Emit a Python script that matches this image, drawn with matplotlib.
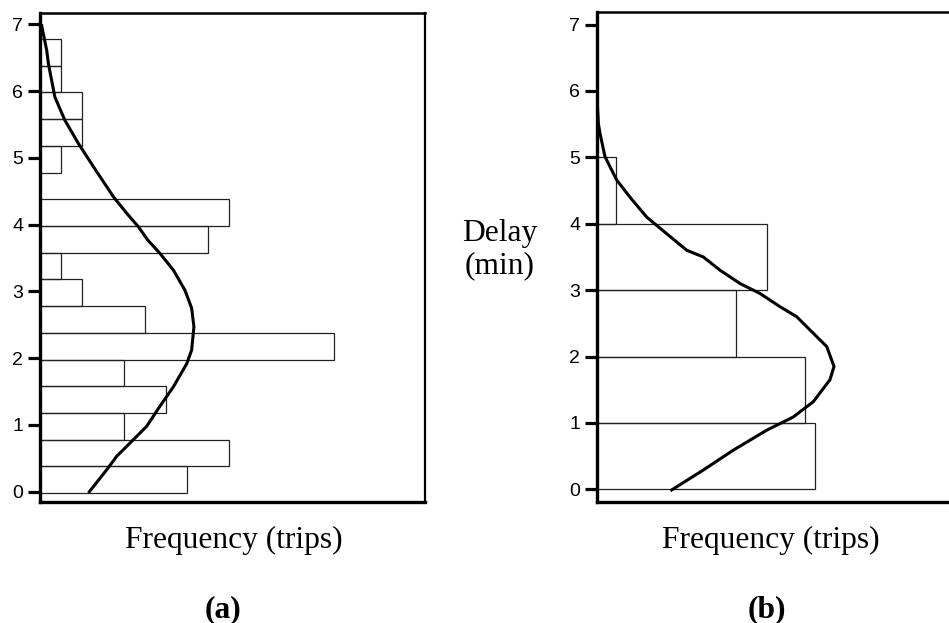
import matplotlib
matplotlib.use("Agg")
import matplotlib.pyplot as plt
import numpy as np

# (a) 0.4 min bins, counts of trips
bins_a = np.arange(17) * 0.4 - 0.02
counts_a = [7, 9, 4, 6, 4, 14, 5, 2, 1, 8, 9, 0, 1, 2, 2, 1, 1]
# fitted curve (a)
curve_a_x = [0.08, 0.32, 0.40, 0.71, 1.19, 1.82, 2.54, 3.49, 4.13, 4.68, 5.13, 5.71,
             6.35, 6.90, 7.22, 7.33, 7.22, 6.99, 6.35, 5.71, 5.08, 4.29, 3.65, 3.18, 2.35]
curve_a_y = [6.98, 6.61, 6.41, 5.91, 5.56, 5.22, 4.87, 4.42, 4.17, 3.97, 3.77, 3.57,
             3.32, 3.02, 2.75, 2.47, 2.12, 1.92, 1.57, 1.28, 0.98, 0.73, 0.53, 0.33, 0.00]

# (b) 1 min bins
bins_b = [0, 1, 2, 3, 4]
counts_b = [21, 20, 13.4, 16.3, 1.8]
curve_b_x = [0.0, 0.13, 0.29, 0.77, 1.89, 3.17, 4.78, 6.70, 8.63, 10.22, 11.83, 13.75,
             15.67, 17.60, 19.20, 20.48, 22.09, 22.79, 22.40, 20.80, 18.88, 16.32,
             13.11, 10.22, 7.18]
curve_b_y = [5.91, 5.51, 5.36, 5.01, 4.66, 4.40, 4.10, 3.85, 3.60, 3.50, 3.30, 3.10,
             2.95, 2.75, 2.60, 2.40, 2.15, 1.85, 1.65, 1.32, 1.09, 0.89, 0.59, 0.29, -0.01]

yticks = [0, 1, 2, 3, 4, 5, 6, 7]
serif = "Liberation Serif"
sans = "Liberation Sans"

fig = plt.figure(figsize=(9.49, 6.23), dpi=100)
ax1 = fig.add_axes([40 / 949, 121 / 623, 385 / 949, 489 / 623])
ax2 = fig.add_axes([597 / 949, 121.3 / 623, 352 / 949, 489.7 / 623])


def style_axes(ax, xmax, ylim, show_right=True):
    ax.set_xlim(0, xmax)
    ax.set_ylim(*ylim)
    ax.set_xticks([])
    ax.set_yticks(yticks)
    ax.set_yticklabels([str(t) for t in yticks], fontfamily=sans, fontsize=14)
    ax.tick_params(axis="y", direction="out", length=9, width=2.3, pad=3)
    ax.spines["left"].set_linewidth(2.4)
    ax.spines["bottom"].set_linewidth(2.4)
    ax.spines["top"].set_linewidth(1.8)
    ax.spines["right"].set_linewidth(1.6)
    ax.spines["right"].set_visible(show_right)


ax1.barh(bins_a, counts_a, height=0.4, align="edge", fill=False,
         edgecolor="#222222", linewidth=0.9)
ax1.plot(curve_a_x, curve_a_y, color="black", linewidth=2.2)
style_axes(ax1, 385 / 21, (-0.154, 7.17))

ax2.barh(bins_b, counts_b, height=1.0, align="edge", fill=False,
         edgecolor="#222222", linewidth=0.9)
ax2.plot(curve_b_x, curve_b_y, color="black", linewidth=2.2)
style_axes(ax2, 352 / 10.4, (-0.187, 7.19), show_right=False)

fig.text(234 / 949, 1 - 540 / 623, "Frequency (trips)", family=serif,
         fontsize=22.7, ha="center", va="center")
fig.text(771 / 949, 1 - 540 / 623, "Frequency (trips)", family=serif,
         fontsize=22.7, ha="center", va="center")
fig.text(500 / 949, 1 - 250 / 623, "Delay\n(min)", family=serif,
         fontsize=22.7, ha="center", va="center", linespacing=1.15)
fig.text(223 / 949, 1 - 610 / 623, "(a)", family=serif, fontweight="bold",
         fontsize=22.7, ha="center", va="center")
fig.text(767 / 949, 1 - 610 / 623, "(b)", family=serif, fontweight="bold",
         fontsize=22.7, ha="center", va="center")

fig.savefig("out.png", dpi=100)
